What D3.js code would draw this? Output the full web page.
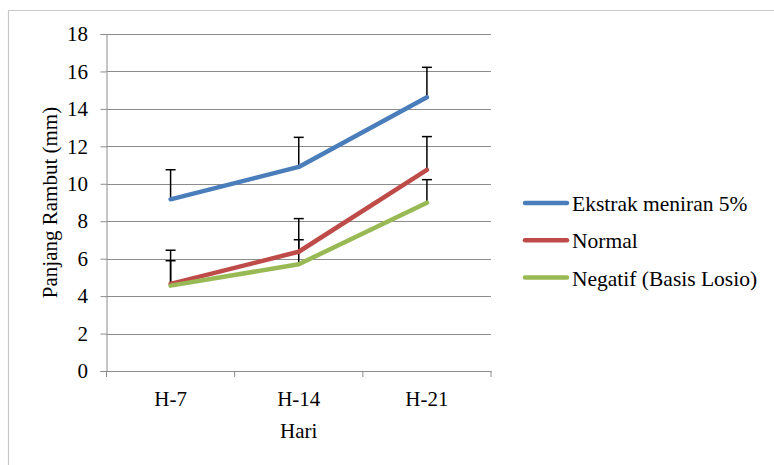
<!DOCTYPE html>
<html><head><meta charset="utf-8">
<script src="https://cdn.jsdelivr.net/npm/d3@7"></script>
<style>body{margin:0;background:#fff}svg{display:block}svg text{font-family:"Liberation Serif","Times New Roman",Times,serif !important;fill:#000}</style>
</head><body><svg id="c" width="774" height="465"></svg>
<script>
const categories = ["H-7","H-14","H-21"];
const seriesNames = ["Ekstrak meniran 5%","Normal","Negatif (Basis Losio)"];
const seriesColors = ["#4a7ebb","#be4b48","#98b954"];
const ekstrakValues = [9.17, 10.90, 14.62];
const ekstrakErrors = [1.58, 1.58, 1.60];
const normalValues = [4.65, 6.37, 10.74];
const normalErrors = [1.80, 1.77, 1.78];
const negatifValues = [4.56, 5.70, 8.99];
const negatifErrors = [1.33, 1.31, 1.23];
const yTicks = [0,2,4,6,8,10,12,14,16,18];

const series = [
  {name: seriesNames[0], color: seriesColors[0], values: ekstrakValues, errors: ekstrakErrors},
  {name: seriesNames[1], color: seriesColors[1], values: normalValues, errors: normalErrors},
  {name: seriesNames[2], color: seriesColors[2], values: negatifValues, errors: negatifErrors}
];

const FS = "21px";
const svg = d3.select("#c");
// outer frame
svg.append("path").attr("d","M8.5,465 L8.5,10.5 L774,10.5").attr("fill","none").attr("stroke","#c8c8c8").attr("stroke-width",1.2);

const L = 106.5, R = 491, T = 34, B = 371;
const x = d3.scaleBand().domain(categories).range([L, R]);
const y = d3.scaleLinear().domain([0,18]).range([B, T]);

// gridlines
svg.append("g").selectAll("line").data(yTicks.filter(d=>d>0)).join("line")
  .attr("x1", L).attr("x2", R).attr("y1", d=>Math.round(y(d))+0.5).attr("y2", d=>Math.round(y(d))+0.5)
  .attr("stroke","#8c8c8c").attr("stroke-width",1);

// y axis
const ya = svg.append("g").attr("transform",`translate(${L},0)`)
  .call(d3.axisLeft(y).tickValues(yTicks).tickSize(6).tickPadding(12.5));
ya.attr("font-family", null).attr("font-size", null);
ya.select(".domain").attr("stroke","#8c8c8c");
ya.selectAll(".tick line").attr("stroke","#8c8c8c");
ya.selectAll(".tick text").style("font-size",FS);

// x axis
const xa = svg.append("g").attr("transform",`translate(0,${B})`)
  .call(d3.axisBottom(x).tickSize(0).tickPadding(20));
xa.attr("font-family", null).attr("font-size", null);
xa.select(".domain").attr("stroke","#8c8c8c");
xa.selectAll(".tick text").style("font-size",FS);
svg.append("g").selectAll("line").data(categories.concat(["end"])).join("line")
  .attr("x1", (d,i)=> i<categories.length ? x(d) : x.range()[1])
  .attr("x2", (d,i)=> i<categories.length ? x(d) : x.range()[1])
  .attr("y1", B).attr("y2", B+6).attr("stroke","#8c8c8c");

// titles
svg.append("text").attr("x", (L+R)/2).attr("y", 438).attr("text-anchor","middle").style("font-size",FS).text("Hari");
svg.append("text").attr("transform",`translate(57,${(T+B)/2}) rotate(-90)`).attr("text-anchor","middle").style("font-size",FS).text("Panjang Rambut (mm)");

const cx = d => x(d) + x.bandwidth()/2;
const line = d3.line().x((d,i)=>cx(categories[i])).y(d=>y(d));

// error bars (plus direction)
series.forEach(s => {
  const g = svg.append("g");
  s.values.forEach((v,i) => {
    const px = cx(categories[i]);
    g.append("line").attr("x1",px).attr("x2",px).attr("y1",y(v)).attr("y2",y(v+s.errors[i])).attr("stroke","#000").attr("stroke-width",1.5);
    g.append("line").attr("x1",px-5).attr("x2",px+5).attr("y1",y(v+s.errors[i])).attr("y2",y(v+s.errors[i])).attr("stroke","#000").attr("stroke-width",1.5);
  });
});
// lines
series.forEach(s => {
  svg.append("path").datum(s.values).attr("d", line).attr("fill","none")
    .attr("stroke", s.color).attr("stroke-width",4.5).attr("stroke-linejoin","round").attr("stroke-linecap","round");
});

// legend
const lg = svg.append("g");
series.forEach((s,i) => {
  const ly = 203 + i*37.3;
  lg.append("line").attr("x1",525).attr("x2",567).attr("y1",ly).attr("y2",ly).attr("stroke",s.color).attr("stroke-width",4.5).attr("stroke-linecap","round");
  lg.append("text").attr("x",572).attr("y",ly+8).style("font-size","21.5px").text(s.name);
});
</script></body></html>
